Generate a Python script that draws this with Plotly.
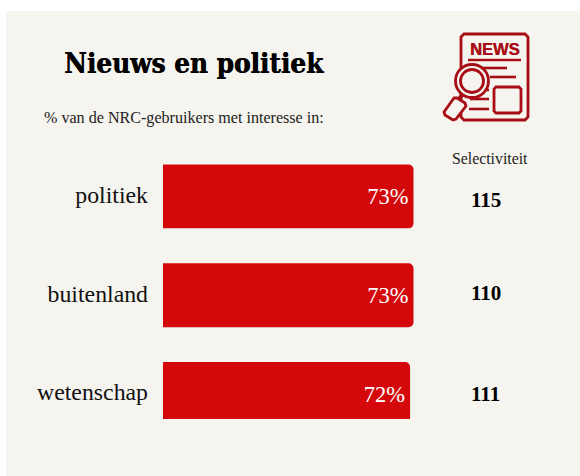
import plotly.graph_objects as go

W, H = 580, 476
TITLE = "Nieuws en politiek"
SUBTITLE = "% van de NRC-gebruikers met interesse in:"
SEL_TITLE = "Selectiviteit"
categories = ["politiek", "buitenland", "wetenschap"]
values = [73, 73, 72]
selectivity = [115, 110, 111]

PANEL = "#f6f4ef"
RED = "#d4080a"
ICON = "#a80c14"
SERIF = "Liberation Serif, serif"
SLAB = "DejaVu Serif Condensed, DejaVu Serif, serif"

L, R, T, B = 163, 0, 147, H - 419
SEL_SHIFT = [-4, 2, 0]


def X(px):
    return (px - L) / (W - L - R)


def Y(px):
    return 1 - (px - T) / (H - T - B)


def line(x0, y0, x1, y1, w=2.6):
    return dict(type="line", xref="paper", yref="paper", x0=X(x0), y0=Y(y0), x1=X(x1), y1=Y(y1),
                line=dict(color=ICON, width=w), layer="above")


def path(points, fill=PANEL, w=2.8, close=True):
    d = "M " + " L ".join(f"{X(a):.4f},{Y(b):.4f}" for a, b in points) + (" Z" if close else "")
    return dict(type="path", xref="paper", yref="paper", path=d, fillcolor=fill,
                line=dict(color=ICON, width=w), layer="above")


def circle(cx, cy, r, fill=PANEL, w=2.8):
    return dict(type="circle", xref="paper", yref="paper", x0=X(cx - r), x1=X(cx + r), y0=Y(cy + r), y1=Y(cy - r),
                fillcolor=fill, line=dict(color=ICON, width=w), layer="above")


shapes = [
    dict(type="rect", xref="paper", yref="paper", x0=X(6), x1=X(W), y0=Y(11), y1=Y(H),
         fillcolor=PANEL, line_width=0, layer="below"),
    path([(464, 34), (525, 34), (528, 37), (528, 117), (525, 120), (464, 120), (461, 117), (461, 37)], fill="rgba(0,0,0,0)"),
    line(468, 60, 521, 60),
    line(478, 68, 507, 68),
    line(490, 77, 516, 77),
    line(478, 90, 489, 90),
    line(470, 99, 489, 99),
    line(469, 109, 489, 109),
    path([(496, 87), (519, 87), (521, 89), (521, 111), (519, 113), (496, 113), (494, 111), (494, 89)], fill="rgba(0,0,0,0)"),
    path([(454, 98), (444, 112), (445, 115), (453, 120), (456, 119), (466, 106), (465, 103), (457, 98)]),
    line(459, 99, 463, 94, 4),
    circle(472, 81, 16.5),
    circle(472, 81, 11.5),
]


def note(text, x, y, family, size, color, xanchor="center", shadow=None):
    font = dict(family=family, size=size, color=color)
    if shadow:
        font["shadow"] = shadow
    return dict(text=text, xref="paper", yref="paper", x=X(x), y=Y(y), xanchor=xanchor, yanchor="middle",
                showarrow=False, font=font)


annotations = [
    note("<b>NEWS</b>", 494.5, 48.5, "Liberation Sans, sans-serif", 16.5, ICON, shadow="0.4px 0 0 #a80c14"),
    note(f"<b>{TITLE}</b>", 62, 63, SLAB, 27.6, "#000000", "left", shadow="0.6px 0 0 #000000"),
    note(SUBTITLE, 42, 118, SERIF, 16.1, "#222222", "left"),
    note(SEL_TITLE, 490, 158, SERIF, 15.8, "#222222"),
]
for cat, s, shift in zip(categories, selectivity, SEL_SHIFT):
    annotations.append(dict(text=f"<b>{s}</b>", x=94, xref="x", y=cat, yref="y", showarrow=False, yshift=shift,
                            xanchor="center", yanchor="middle",
                            font=dict(family=SERIF, size=21, color="#000000")))

fig = go.Figure(go.Bar(
    x=values, y=categories, orientation="h", width=64 / 99, marker=dict(color=RED, line_width=0),
    text=[f"{v}%" for v in values], textposition="inside", insidetextanchor="end",
    textangle=0, textfont=dict(family=SERIF, size=22.5, color="#ffffff"), hoverinfo="skip",
))
fig.update_layout(
    width=W, height=H, margin=dict(l=L, r=R, t=T, b=B), paper_bgcolor="#ffffff", plot_bgcolor="rgba(0,0,0,0)",
    showlegend=False, shapes=shapes, annotations=annotations, barcornerradius=5,
    xaxis=dict(range=[0, (W - L) / (250.5 / 73)], visible=False, fixedrange=True),
    yaxis=dict(type="category", range=[(419 - 394) / 99 + 2, -0.5], showline=False, showgrid=False, ticks="",
               tickfont=dict(family=SERIF, size=23.8, color="#111111"), ticklabelstandoff=14, ticklabelshift=2,
               fixedrange=True),
)
fig.write_html("out.html", config=dict(displayModeBar=False),
               post_script="document.body.style.margin='0';document.body.style.overflow='hidden';")
